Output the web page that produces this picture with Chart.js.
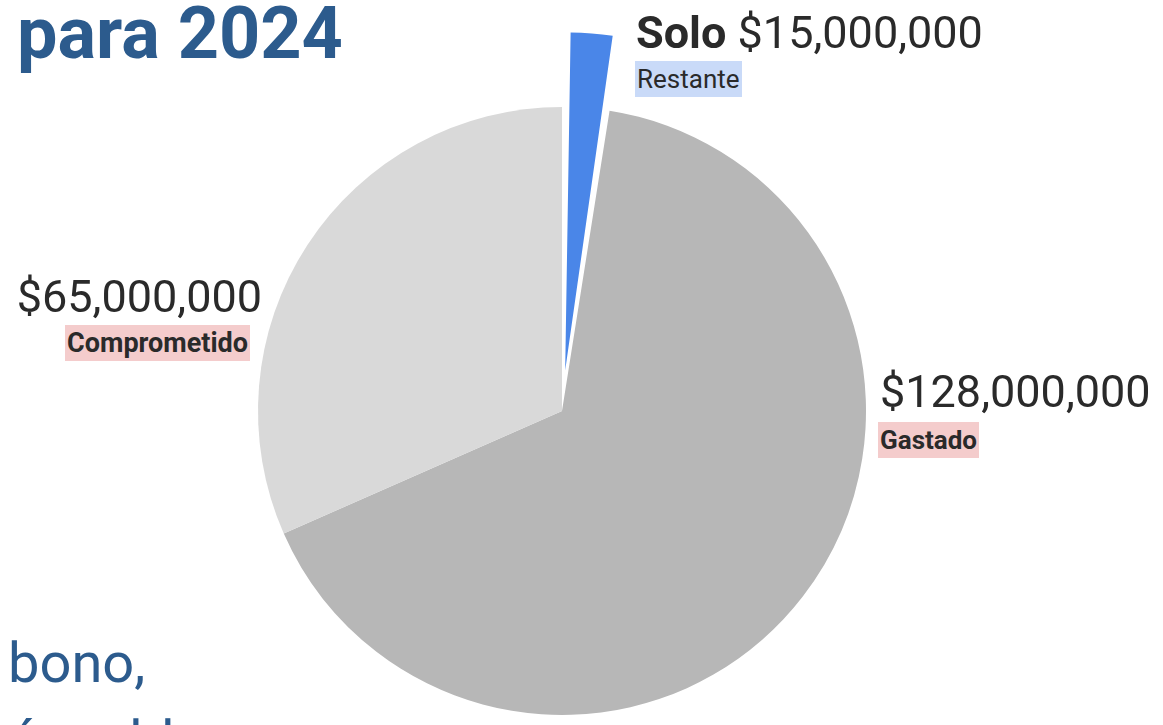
<!DOCTYPE html>
<html lang="es">
<head>
<meta charset="utf-8">
<title>Presupuesto para 2024</title>
<script src="https://cdn.jsdelivr.net/npm/chart.js@4"></script>
<style>
  html, body { margin: 0; padding: 0; background: #fff; overflow: hidden; }
  body { width: 1163px; height: 725px; position: relative; font-family: Roboto, "Noto Sans", sans-serif; color: #2a2a2a; }
  #wrap { position: absolute; left: 0; top: 0; width: 1163px; height: 725px; }
  .title { position: absolute; left: 17px; top: -2px; font-size: 72px; font-weight: 700; line-height: 1; color: #2c5b8d; white-space: nowrap; }
  .foot { position: absolute; left: 8px; top: 624px; font-size: 56px; line-height: 78px; color: #2c5b8d; white-space: nowrap; }
  .amount { position: absolute; font-size: 45px; line-height: 1; white-space: nowrap; }
  .amount b { font-weight: 700; }
  .tag { position: absolute; height: 36px; line-height: 36px; font-size: 26px; padding: 0 2px; white-space: nowrap; }
</style>
</head>
<body>
<div id="wrap"><canvas id="pieChart"></canvas></div>
<div class="title">para 2024</div>
<div class="foot">bono,<br>ó un bloque</div>
<div id="labels"></div>

<script>
// slices, clockwise from the top
const categories = ["Restante", "Gastado", "Comprometido"];
const amounts = [15000000, 128000000, 65000000];
// share of the circle each slice takes in the drawing (percent)
const sliceShares = [2.5, 65.9, 31.6];
const prefixes = ["Solo", "", ""];

const sliceColors = ["#4a86e8", "#b7b7b7", "#d9d9d9"];
const tagColors = ["#c9daf8", "#f4cccc", "#f4cccc"];
const tagWeights = [400, 700, 700];
const tagSizes = [26, 26, 27];

// where each label sits
const labelSpots = [
  { amountLeft: 636, amountTop: 10, tagLeft: 635, tagTop: 61 },
  { amountLeft: 880, amountTop: 369, tagLeft: 878, tagTop: 422 },
  { amountRight: 901, amountTop: 274, tagRight: 913, tagTop: 325 },
];

const fmt = (v) => "$" + v.toLocaleString("en-US");

const labelBox = document.getElementById("labels");
categories.forEach((cat, i) => {
  const spot = labelSpots[i];
  const amt = document.createElement("div");
  amt.className = "amount";
  amt.innerHTML = (prefixes[i] ? "<b>" + prefixes[i] + "</b> " : "") + fmt(amounts[i]);
  amt.style.top = spot.amountTop + "px";
  if (spot.amountLeft !== undefined) amt.style.left = spot.amountLeft + "px";
  else amt.style.right = spot.amountRight + "px";
  labelBox.appendChild(amt);

  const tag = document.createElement("div");
  tag.className = "tag";
  tag.textContent = cat;
  tag.style.background = tagColors[i];
  tag.style.fontWeight = tagWeights[i];
  tag.style.fontSize = tagSizes[i] + "px";
  tag.style.top = spot.tagTop + "px";
  if (spot.tagLeft !== undefined) tag.style.left = spot.tagLeft + "px";
  else tag.style.right = spot.tagRight + "px";
  labelBox.appendChild(tag);
});

const ctx = document.getElementById("pieChart").getContext("2d");
new Chart(ctx, {
  type: "pie",
  data: {
    labels: categories,
    datasets: [
      {
        data: sliceShares,
        backgroundColor: sliceColors,
        borderWidth: 0,
        // pulls the thin slice out by about 75px
        offset: [162, 0, 0],
        hoverOffset: 0,
        clip: false,
      },
    ],
  },
  options: {
    responsive: true,
    maintainAspectRatio: false,
    animation: false,
    events: [],
    radius: 304,
    layout: { padding: { left: 0, right: 39, top: 97, bottom: 0 } },
    plugins: {
      legend: { display: false },
      tooltip: { enabled: false },
    },
  },
});
</script>
</body>
</html>
